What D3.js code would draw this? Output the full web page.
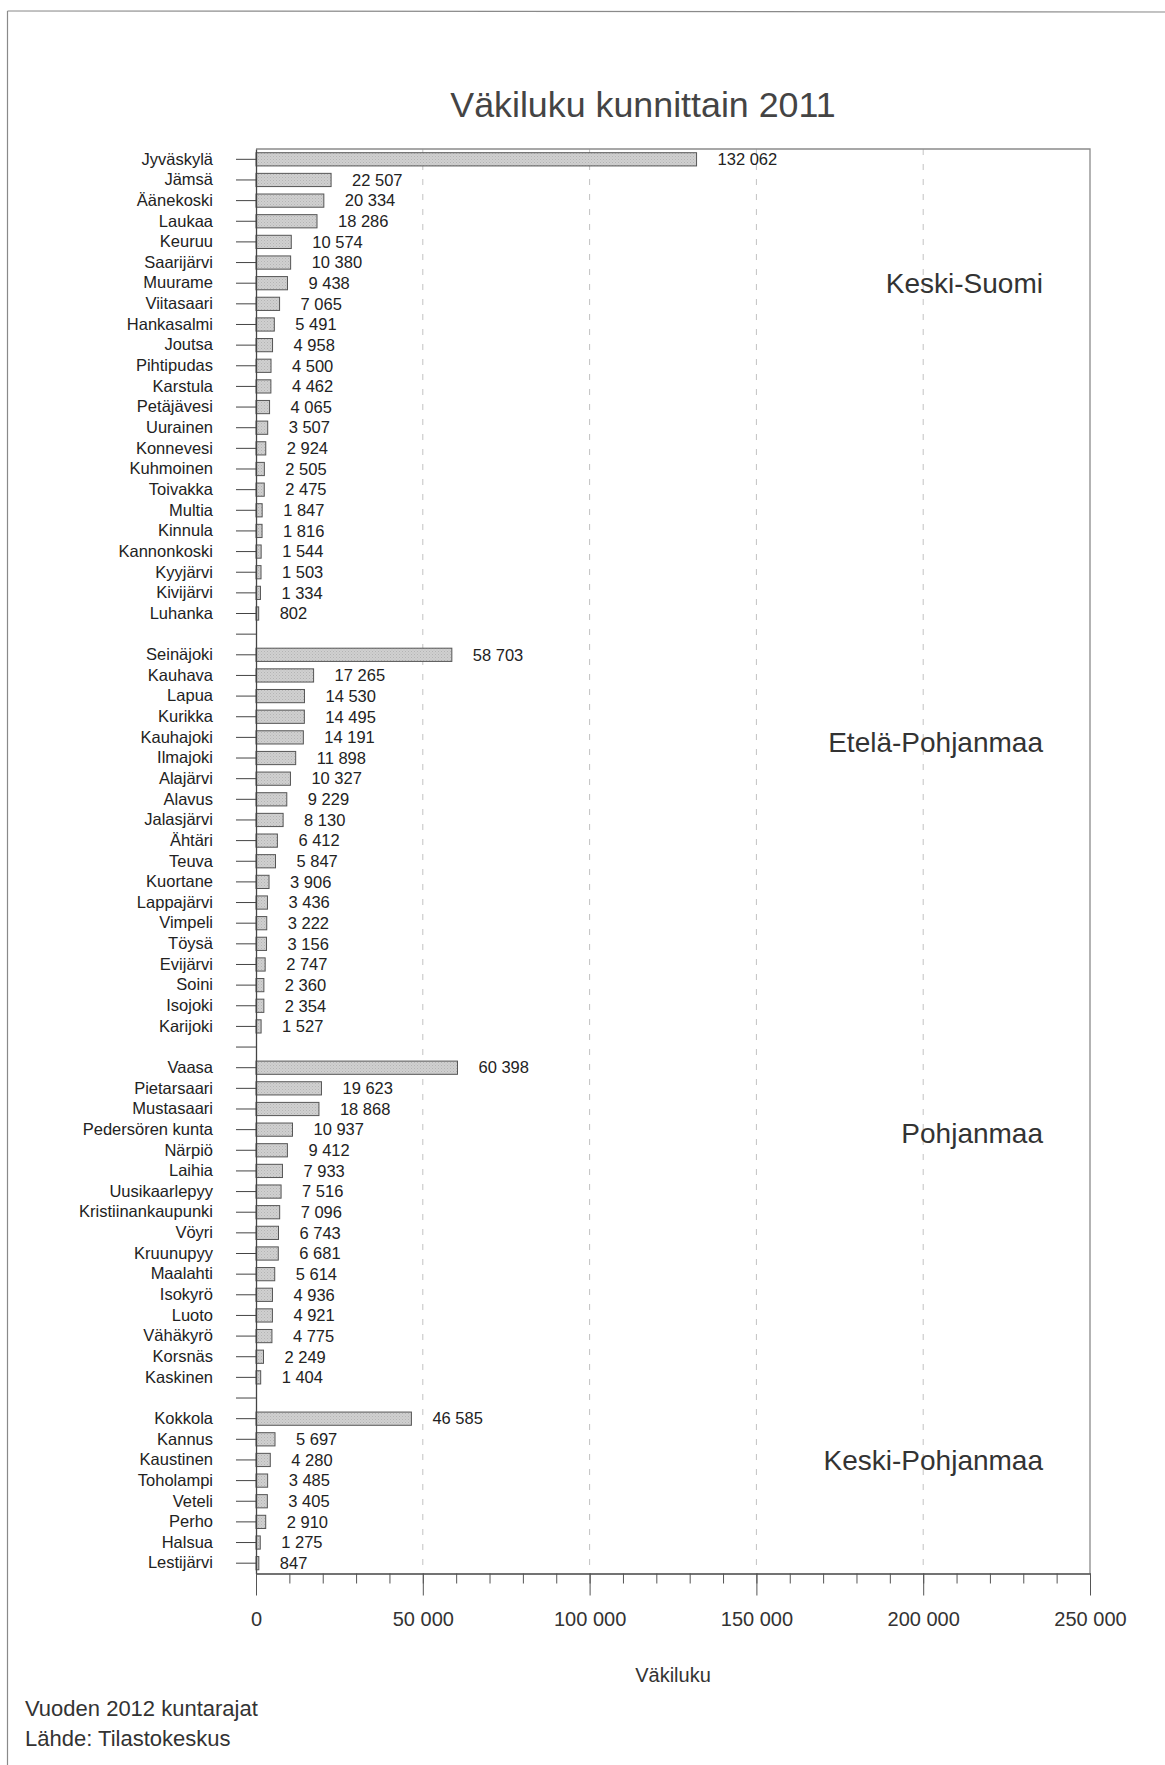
<!DOCTYPE html>
<html>
<head>
<meta charset="utf-8">
<script src="https://cdn.jsdelivr.net/npm/d3@7"></script>
<style>
  html, body { margin: 0; padding: 0; background: #fff; }
  svg { display: block; font-family: "Liberation Sans", Arial, sans-serif; }
</style>
</head>
<body>
<svg id="chart" width="1165" height="1765"></svg>
<script>
// ---- Data ----
const regions = ["Keski-Suomi", "Etelä-Pohjanmaa", "Pohjanmaa", "Keski-Pohjanmaa"];

const ksNames = ["Jyväskylä","Jämsä","Äänekoski","Laukaa","Keuruu","Saarijärvi","Muurame","Viitasaari","Hankasalmi","Joutsa","Pihtipudas","Karstula","Petäjävesi","Uurainen","Konnevesi","Kuhmoinen","Toivakka","Multia","Kinnula","Kannonkoski","Kyyjärvi","Kivijärvi","Luhanka"];
const ksValues = [132062,22507,20334,18286,10574,10380,9438,7065,5491,4958,4500,4462,4065,3507,2924,2505,2475,1847,1816,1544,1503,1334,802];

const epNames = ["Seinäjoki","Kauhava","Lapua","Kurikka","Kauhajoki","Ilmajoki","Alajärvi","Alavus","Jalasjärvi","Ähtäri","Teuva","Kuortane","Lappajärvi","Vimpeli","Töysä","Evijärvi","Soini","Isojoki","Karijoki"];
const epValues = [58703,17265,14530,14495,14191,11898,10327,9229,8130,6412,5847,3906,3436,3222,3156,2747,2360,2354,1527];

const pNames = ["Vaasa","Pietarsaari","Mustasaari","Pedersören kunta","Närpiö","Laihia","Uusikaarlepyy","Kristiinankaupunki","Vöyri","Kruunupyy","Maalahti","Isokyrö","Luoto","Vähäkyrö","Korsnäs","Kaskinen"];
const pValues = [60398,19623,18868,10937,9412,7933,7516,7096,6743,6681,5614,4936,4921,4775,2249,1404];

const kpNames = ["Kokkola","Kannus","Kaustinen","Toholampi","Veteli","Perho","Halsua","Lestijärvi"];
const kpValues = [46585,5697,4280,3485,3405,2910,1275,847];

const xTicksMajor = [0, 50000, 100000, 150000, 200000, 250000];
const xMax = 250000;
const titleText = "Väkiluku kunnittain 2011";
const xTitleText = "Väkiluku";
const footerLines = ["Vuoden 2012 kuntarajat", "Lähde: Tilastokeskus"];

// ---- Build rows (with blank separator rows between regions) ----
const groups = [
  {region: regions[0], names: ksNames, values: ksValues},
  {region: regions[1], names: epNames, values: epValues},
  {region: regions[2], names: pNames, values: pValues},
  {region: regions[3], names: kpNames, values: kpValues}
];
const rows = [];
groups.forEach((g, gi) => {
  if (gi > 0) rows.push({key: "__gap" + gi, name: "", value: null});
  g.names.forEach((n, i) => rows.push({key: n, name: n, value: g.values[i], region: g.region}));
});

// ---- Layout ----
const plot = {left: 256, right: 1090, top: 149, bottom: 1573.5};
const svg = d3.select("#chart");

const defs = svg.append("defs");
const pat = defs.append("pattern").attr("id", "dots")
  .attr("patternUnits", "userSpaceOnUse").attr("width", 3).attr("height", 3);
pat.append("rect").attr("width", 3).attr("height", 3).attr("fill", "#d0d0d0");
pat.append("rect").attr("x", 0).attr("y", 0).attr("width", 1).attr("height", 1).attr("fill", "#b4b4b4");
pat.append("rect").attr("x", 1.5).attr("y", 1.5).attr("width", 1).attr("height", 1).attr("fill", "#bcbcbc");

// page frame (top and left edges visible)
svg.append("line").attr("x1", 7.5).attr("x2", 1165).attr("y1", 11).attr("y2", 12)
  .attr("stroke", "#8a8a8a").attr("stroke-width", 1.2);
svg.append("line").attr("x1", 7.5).attr("x2", 7.5).attr("y1", 11).attr("y2", 1765)
  .attr("stroke", "#8a8a8a").attr("stroke-width", 1.2);

const x = d3.scaleLinear().domain([0, xMax]).range([plot.left, plot.right]);
const y = d3.scaleBand().domain(rows.map(d => d.key)).range([plot.top, plot.bottom]).paddingInner(0.36).paddingOuter(0.18);
const yStep = y.step();

const fmt = d3.formatLocale({decimal: ",", thousands: "\u00a0", grouping: [3], currency: ["", ""]}).format(",d");

// title
svg.append("text").attr("x", 643).attr("y", 117).attr("text-anchor", "middle")
  .attr("font-size", 35.8).attr("fill", "#444").text(titleText);

// gridlines (dashed)
svg.append("g").selectAll("line").data(xTicksMajor.slice(1, -1)).join("line")
  .attr("x1", d => x(d)).attr("x2", d => x(d))
  .attr("y1", plot.top).attr("y2", plot.bottom)
  .attr("stroke", "#c2c2c2").attr("stroke-width", 1).attr("stroke-dasharray", "6,9");

// plot frame (top & right)
svg.append("path")
  .attr("d", `M${plot.left},${plot.top}H${plot.right}V${plot.bottom}`)
  .attr("fill", "none").attr("stroke", "#8a8a8a").attr("stroke-width", 1.3);

// bars
svg.append("g").selectAll("rect").data(rows.filter(d => d.value !== null)).join("rect")
  .attr("x", x(0)).attr("y", d => y(d.key))
  .attr("width", d => x(d.value) - x(0)).attr("height", y.bandwidth())
  .attr("fill", "url(#dots)").attr("stroke", "#555").attr("stroke-width", 1);

// value labels
svg.append("g").selectAll("text").data(rows.filter(d => d.value !== null)).join("text")
  .attr("x", d => x(d.value) + 21).attr("y", d => y(d.key) + y.bandwidth() / 2)
  .attr("dy", "0.35em").attr("font-size", 16.5).attr("fill", "#222")
  .text(d => fmt(d.value));

// y axis
const yAxis = d3.axisLeft(y).tickSize(20).tickPadding(23).tickSizeOuter(0)
  .tickFormat(k => { const r = rows.find(d => d.key === k); return r ? r.name : ""; });
const gy = svg.append("g").attr("transform", `translate(${plot.left},0)`).call(yAxis);
gy.select(".domain").attr("stroke", "#444").attr("stroke-width", 1.3);
gy.selectAll(".tick line").attr("stroke", "#444");
gy.selectAll(".tick text").attr("font-size", 16.5).attr("fill", "#222")
  .attr("font-family", "Liberation Sans, Arial, sans-serif");

// x axis minor
const gxMinor = svg.append("g").attr("transform", `translate(0,${plot.bottom})`)
  .call(d3.axisBottom(x).tickValues(d3.range(0, xMax + 1, 10000)).tickSize(10).tickSizeOuter(0).tickFormat(""));
gxMinor.select(".domain").attr("stroke", "#444").attr("stroke-width", 1.5);
gxMinor.selectAll(".tick line").attr("stroke", "#555");

// x axis major
const gx = svg.append("g").attr("transform", `translate(0,${plot.bottom})`)
  .call(d3.axisBottom(x).tickValues(xTicksMajor).tickSize(22).tickSizeOuter(0).tickPadding(16.5).tickFormat(fmt));
gx.select(".domain").remove();
gx.selectAll(".tick line").attr("stroke", "#555");
gx.selectAll(".tick text").attr("font-size", 20).attr("fill", "#333")
  .attr("font-family", "Liberation Sans, Arial, sans-serif");

// x axis title
svg.append("text").attr("x", (plot.left + plot.right) / 2).attr("y", 1682)
  .attr("text-anchor", "middle").attr("font-size", 20).attr("fill", "#333").text(xTitleText);

// region labels (positioned at row offsets)
const regionRowPos = [6, 28.2, 47.15, 63];
svg.append("g").selectAll("text").data(regions).join("text")
  .attr("x", 1043).attr("y", (d, i) => plot.top + yStep * (regionRowPos[i] + 0.5))
  .attr("dy", "0.36em").attr("text-anchor", "end")
  .attr("font-size", 28).attr("fill", "#333").text(d => d);

// footer
svg.append("g").selectAll("text").data(footerLines).join("text")
  .attr("x", 25).attr("y", (d, i) => 1716 + i * 30)
  .attr("font-size", 22).attr("fill", "#333").text(d => d);
</script>
</body>
</html>
